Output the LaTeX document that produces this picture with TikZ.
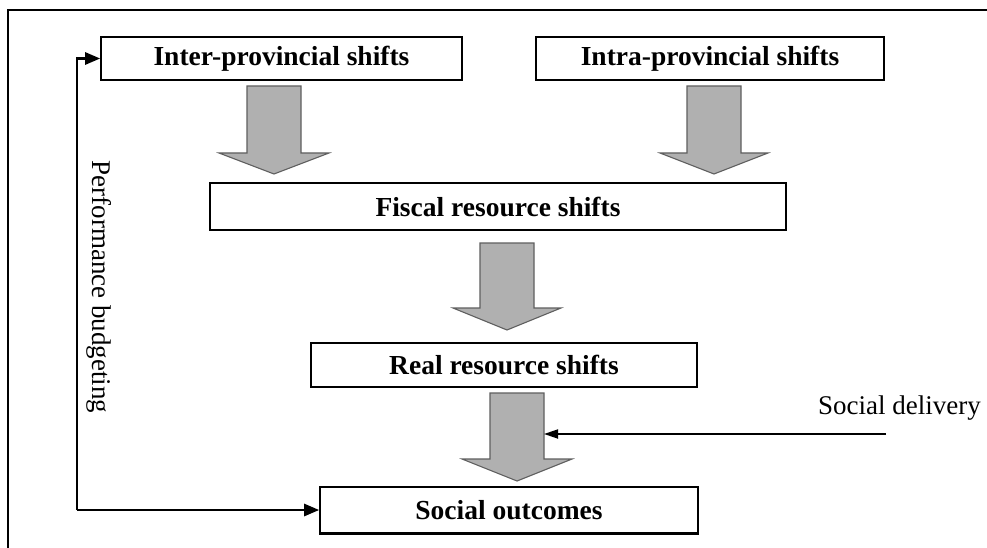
\documentclass[tikz,border=0pt]{standalone}
\usepackage{fontspec}
\setmainfont{Liberation Serif}
\usetikzlibrary{arrows.meta}
\definecolor{blkfill}{RGB}{176,176,176}
\definecolor{blkline}{RGB}{95,95,95}
\tikzset{
  boxnode/.style={draw=black, line width=1.6pt, inner sep=0pt, font=\bfseries\fontsize{27.5}{30}\selectfont},
  blockarr/.style={fill=blkfill, draw=blkline, line width=1.1pt, line join=miter},
  fbline/.style={line width=2.6pt, -{Triangle[length=15pt,width=12pt]}},
  sdline/.style={line width=1.8pt, -{Triangle[length=14pt,width=9pt]}},
  lbl/.style={inner sep=0pt, font=\fontsize{27}{30}\selectfont}
}
\newcommand\blockdown[6]{%
  \draw[blockarr] ({#1-#3},#2) -- ({#1+#3},#2) -- ({#1+#3},#5) -- ({#1+#4},#5)
    -- (#1,#6) -- ({#1-#4},#5) -- ({#1-#3},#5) -- cycle;}
\begin{document}
\begin{tikzpicture}[x=1pt,y=-1pt]
\useasboundingbox (0,0) rectangle (987,548);
\fill[white] (0,0) rectangle (987,548);
% frame
\draw[line width=1.6pt] (8,548) -- (8,10) -- (987,10);
% boxes
\node[boxnode, minimum width=361pt, minimum height=43pt] (inter) at (281.5,58.5) {Inter-provincial shifts};
\node[boxnode, minimum width=348pt, minimum height=43pt] (intra) at (710,58.5) {Intra-provincial shifts};
\node[boxnode, minimum width=576pt, minimum height=47pt] (fiscal) at (498,206.5) {Fiscal resource shifts};
\node[boxnode, minimum width=386pt, minimum height=44pt] (real) at (504,365) {Real resource shifts};
\node[boxnode, minimum width=378pt, minimum height=46pt] (outcomes) at (509,510) {Social outcomes};
\draw[line width=3pt] (outcomes.south west) -- (outcomes.south east);
% block arrows
\blockdown{274}{86}{27}{55}{153}{174}
\blockdown{714}{86}{27}{54}{153}{174}
\blockdown{507}{243}{27}{54}{308}{330}
\blockdown{517}{393}{27}{55}{459}{481}
% feedback loop
\coordinate (fbb) at (77,510);
\coordinate (fbt) at (77,58.5);
\draw[fbline] (fbb) -- (outcomes.west);
\draw[fbline, line join=miter] (fbb) -- (fbt) -- (inter.west);
\node[lbl, rotate=-90] (perf) at (99,287) {Performance budgeting};
% social delivery
\node[lbl, anchor=base east] (sdl) at (981,414) {Social delivery};
\coordinate (sds) at (886,434);
\coordinate (sde) at (544,434);
\draw[sdline] (sds) -- (sde);
\end{tikzpicture}
\end{document}
